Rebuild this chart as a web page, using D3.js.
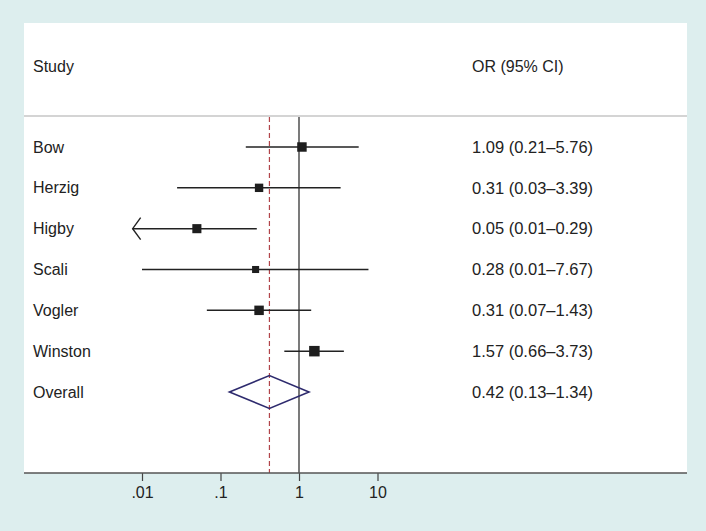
<!DOCTYPE html>
<html><head><meta charset="utf-8">
<script src="https://cdn.jsdelivr.net/npm/d3@7"></script>
<style>
html,body{margin:0;padding:0;background:#ddeeee;}
svg{display:block;font-family:"Liberation Sans",Arial,sans-serif;}
</style></head>
<body>
<svg id="c" width="706" height="531"></svg>
<script>
// ---- data ----
const studies   = ["Bow", "Herzig", "Higby", "Scali", "Vogler", "Winston"];
const orValues  = [1.09, 0.31, 0.05, 0.28, 0.31, 1.57];
const ciLower   = [0.21, 0.028, 0.0076, 0.01, 0.067, 0.65];
const ciUpper   = [5.76, 3.39, 0.29, 7.67, 1.43, 3.73];
const truncatedLower = [false, false, true, false, false, false];
const weights   = [18.2, 14.3, 16.8, 10.1, 18.2, 22.4];
const orLabels  = ["1.09 (0.21–5.76)", "0.31 (0.03–3.39)", "0.05 (0.01–0.29)",
                   "0.28 (0.01–7.67)", "0.31 (0.07–1.43)", "1.57 (0.66–3.73)"];
const overall   = {label: "Overall", or: 0.42, lo: 0.13, hi: 1.34, text: "0.42 (0.13–1.34)"};
const xTicks    = [0.01, 0.1, 1, 10];
const xTickLabels = [".01", ".1", "1", "10"];

// ---- layout ----
const svg = d3.select("#c");
const panel = {x0: 24, x1: 687, y0: 23, y1: 473};
const headerLineY = 116;
const FS = 16;

svg.append("rect").attr("x", panel.x0).attr("y", panel.y0)
  .attr("width", panel.x1 - panel.x0).attr("height", panel.y1 - panel.y0)
  .attr("fill", "#ffffff");

const x = d3.scaleLog().domain([0.01, 10]).range([142, 377.5]);
const rows = studies.concat([overall.label]);
const y = d3.scalePoint().domain(rows).range([147, 392]);
const size = d3.scaleSqrt().domain([0, d3.max(weights)]).range([0, 10.5]);

// header
svg.append("text").attr("x", 33).attr("y", 66).attr("dy", "0.35em")
  .attr("font-size", FS).attr("fill", "#222").text("Study");
svg.append("text").attr("x", 472).attr("y", 66).attr("dy", "0.35em")
  .attr("font-size", FS).attr("fill", "#222").text("OR (95% CI)");
svg.append("line").attr("x1", panel.x0).attr("x2", panel.x1)
  .attr("y1", headerLineY).attr("y2", headerLineY)
  .attr("stroke", "#d4d4d4").attr("stroke-width", 2);

// null line at OR = 1
svg.append("line").attr("x1", x(1)).attr("x2", x(1))
  .attr("y1", headerLineY + 1).attr("y2", panel.y1)
  .attr("stroke", "#333").attr("stroke-width", 1.3);

// overall reference line (dashed)
svg.append("line").attr("x1", x(overall.or)).attr("x2", x(overall.or))
  .attr("y1", headerLineY + 1).attr("y2", panel.y1)
  .attr("stroke", "#b2444a").attr("stroke-width", 1.2)
  .attr("stroke-dasharray", "5,3");

// study rows
const data = studies.map((s, i) => ({s, or: orValues[i], lo: ciLower[i], hi: ciUpper[i],
  tr: truncatedLower[i], w: weights[i], t: orLabels[i]}));
const g = svg.append("g");
data.forEach(d => {
  const yy = y(d.s);
  g.append("line").attr("x1", x(d.lo)).attr("x2", x(d.hi))
    .attr("y1", yy).attr("y2", yy)
    .attr("stroke", "#222").attr("stroke-width", 1.5);
  if (d.tr) {
    const ax = x(d.lo);
    g.append("path")
      .attr("d", `M${ax + 8},${yy - 11} L${ax},${yy} L${ax + 8},${yy + 11}`)
      .attr("fill", "none").attr("stroke", "#222").attr("stroke-width", 1.4);
  }
  const s = size(d.w);
  g.append("rect").attr("x", x(d.or) - s / 2).attr("y", yy - s / 2)
    .attr("width", s).attr("height", s).attr("fill", "#1e1e1e");
  g.append("text").attr("x", 33).attr("y", yy).attr("dy", "0.35em")
    .attr("font-size", FS).attr("fill", "#222").text(d.s);
  g.append("text").attr("x", 472).attr("y", yy).attr("dy", "0.35em")
    .attr("font-size", FS + 0.5).attr("fill", "#222").text(d.t);
});

// overall diamond
const oy = y(overall.label);
const dh = 16.5;
svg.append("path")
  .attr("d", `M${x(overall.lo)},${oy} L${x(overall.or)},${oy - dh} L${x(overall.hi)},${oy} L${x(overall.or)},${oy + dh} Z`)
  .attr("fill", "none").attr("stroke", "#2e2b6e").attr("stroke-width", 1.6);
svg.append("text").attr("x", 33).attr("y", oy).attr("dy", "0.35em")
  .attr("font-size", FS).attr("fill", "#222").text(overall.label);
svg.append("text").attr("x", 472).attr("y", oy).attr("dy", "0.35em")
  .attr("font-size", FS + 0.5).attr("fill", "#222").text(overall.text);

// x axis
const axis = d3.axisBottom(x).tickValues(xTicks)
  .tickFormat((d, i) => xTickLabels[i]).tickSize(8).tickSizeOuter(0);
const ag = svg.append("g").attr("transform", `translate(0,${panel.y1})`).call(axis);
ag.select(".domain").remove();
ag.selectAll(".tick line").attr("stroke", "#444").attr("stroke-width", 1.2);
ag.selectAll(".tick text").attr("font-size", FS).attr("fill", "#222")
  .attr("font-family", "Liberation Sans, Arial, sans-serif").attr("dy", "0.9em").attr("y", 11);
svg.append("line").attr("x1", panel.x0).attr("x2", panel.x1)
  .attr("y1", panel.y1).attr("y2", panel.y1)
  .attr("stroke", "#555").attr("stroke-width", 1.6);
</script>
</body></html>
